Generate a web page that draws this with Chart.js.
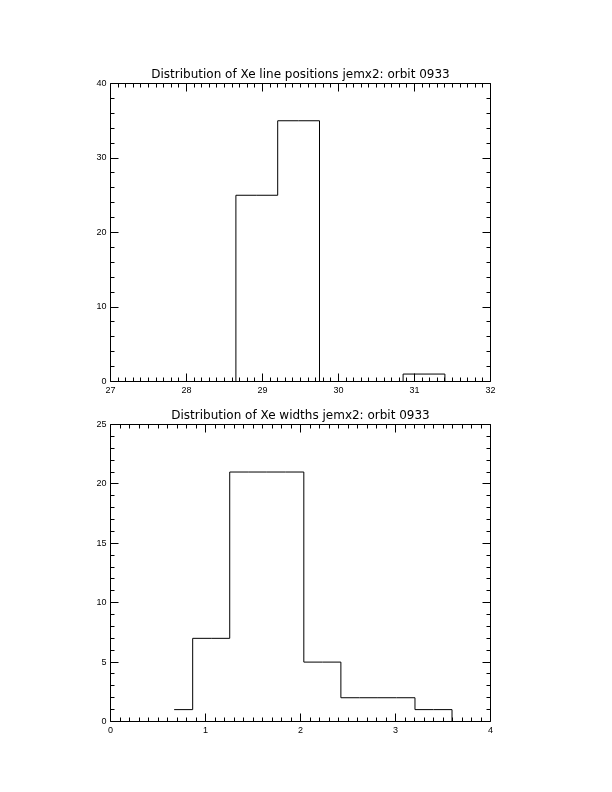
<!DOCTYPE html>
<html>
<head>
<meta charset="utf-8">
<script src="https://cdn.jsdelivr.net/npm/chart.js@4.4.1/dist/chart.umd.min.js"></script>
<style>
  html, body { margin: 0; padding: 0; background: #fff; }
  body { width: 612px; height: 792px; position: relative; overflow: hidden; }
  .wrap { position: absolute; left: 0; width: 612px; }
  canvas { display: block; }
</style>
</head>
<body>
<div class="wrap" style="top:0;height:400px"><canvas id="c1" width="612" height="400"></canvas></div>
<div class="wrap" style="top:400px;height:392px"><canvas id="c2" width="612" height="392"></canvas></div>
<script>
// ---------- Data ----------
const posTitle = "Distribution of Xe line positions jemx2: orbit 0933";
const posBinCenters = [28.375, 28.925, 29.475, 30.025, 30.575, 31.125, 31.675];
const posCounts     = [0,      25,     35,     0,      0,      1,      0];
const posXTicks = [27, 28, 29, 30, 31, 32];
const posYTicks = [0, 10, 20, 30, 40];

const widTitle = "Distribution of Xe widths jemx2: orbit 0933";
const widBinCenters = [0.67, 1.06, 1.45, 1.84, 2.23, 2.62, 3.01, 3.40, 3.79];
const widCounts     = [1,    7,    21,   21,   5,    2,    2,    1,    0];
const widXTicks = [0, 1, 2, 3, 4];
const widYTicks = [0, 5, 10, 15, 20, 25];

// ---------- Helpers ----------
const TITLE_FONT = "'DejaVu Sans', 'Liberation Sans', sans-serif";
const TICK_FONT = "'Liberation Sans', Arial, sans-serif";

const crisp = p => Math.round(p - 0.5) + 0.5;

const idlFrame = {
  id: 'idlFrame',
  afterDraw(chart, args, opts) {
    const ctx = chart.ctx, a = chart.chartArea;
    const xs = chart.scales.x, ys = chart.scales.y;
    const L0 = crisp(a.left), R0 = crisp(a.right), T0 = crisp(a.top), B0 = crisp(a.bottom);
    ctx.save();
    ctx.strokeStyle = '#000';
    ctx.lineWidth = 1;
    ctx.beginPath();
    ctx.rect(L0, T0, R0 - L0, B0 - T0);
    ctx.stroke();
    const MAJ = 8, MIN = 4;
    ctx.beginPath();
    const xMin = xs.min, xMax = xs.max, xStep = opts.xMinor;
    const nx = Math.round((xMax - xMin) / xStep);
    for (let i = 0; i <= nx; i++) {
      const v = xMin + i * xStep;
      const px = crisp(xs.getPixelForValue(v));
      const isMaj = Math.abs(v / opts.xMajor - Math.round(v / opts.xMajor)) < 1e-6;
      const L = isMaj ? MAJ : MIN;
      ctx.moveTo(px, B0); ctx.lineTo(px, B0 - L);
      ctx.moveTo(px, T0); ctx.lineTo(px, T0 + L);
    }
    const yMin = ys.min, yMax = ys.max, yStep = opts.yMinor;
    const ny = Math.round((yMax - yMin) / yStep);
    for (let i = 0; i <= ny; i++) {
      const v = yMin + i * yStep;
      const py = crisp(ys.getPixelForValue(v));
      const isMaj = Math.abs(v / opts.yMajor - Math.round(v / opts.yMajor)) < 1e-6;
      const L = isMaj ? MAJ : MIN;
      ctx.moveTo(L0, py); ctx.lineTo(L0 + L, py);
      ctx.moveTo(R0, py); ctx.lineTo(R0 - L, py);
    }
    ctx.stroke();
    ctx.restore();
  }
};

function makeChart(id, title, centers, counts, xTicks, yTicks, xMinor, yMinor, geom) {
  const xMajor = xTicks[1] - xTicks[0];
  const yMajor = yTicks[1] - yTicks[0];
  return new Chart(document.getElementById(id), {
    type: 'line',
    data: {
      datasets: [{
        data: centers.map((c, i) => ({ x: c, y: counts[i] })),
        stepped: 'middle',
        borderColor: '#000',
        borderWidth: 1,
        pointRadius: 0,
        fill: false,
        segment: {
          borderColor: c => (c.p0.parsed.y === 0 && c.p1.parsed.y === 0) ? 'rgba(0,0,0,0)' : '#000'
        }
      }]
    },
    options: {
      responsive: false,
      animation: false,
      events: [],
      layout: { padding: { left: 0, right: geom.padRight, top: 0, bottom: 0 } },
      plugins: {
        legend: { display: false },
        tooltip: { enabled: false },
        title: {
          display: true,
          text: title,
          fullSize: false,
          color: '#000',
          font: { family: TITLE_FONT, size: 12, weight: 'normal', lineHeight: 1.2 },
          padding: { top: geom.titleTop, bottom: geom.titleBottom }
        },
        idlFrame: { xMinor, yMinor, xMajor, yMajor }
      },
      scales: {
        x: {
          type: 'linear',
          min: xTicks[0], max: xTicks[xTicks.length - 1],
          afterBuildTicks: s => { s.ticks = xTicks.map(v => ({ value: v })); },
          afterFit: s => { s.height = geom.xAxisH; },
          grid: { display: false, drawTicks: false },
          border: { display: false },
          ticks: {
            color: '#000', padding: 4, maxRotation: 0, autoSkip: false,
            font: { family: TICK_FONT, size: 9 }
          }
        },
        y: {
          type: 'linear',
          min: yTicks[0], max: yTicks[yTicks.length - 1],
          afterBuildTicks: s => { s.ticks = yTicks.map(v => ({ value: v })); },
          afterFit: s => { s.width = geom.yAxisW; },
          grid: { display: false, drawTicks: false },
          border: { display: false },
          ticks: {
            color: '#000', padding: 4, autoSkip: false,
            font: { family: TICK_FONT, size: 9 }
          }
        }
      }
    },
    plugins: [idlFrame]
  });
}

// Top chart: plot area x 110.5..490.5, y 83.5..381.5
makeChart('c1', posTitle, posBinCenters, posCounts, posXTicks, posYTicks, 0.1, 2,
  { padRight: 121.5, titleTop: 67.8, titleBottom: 1.3, xAxisH: 18.5, yAxisW: 110.5 });
// Bottom chart: plot area x 110.5..490.5, y 424.5..721.5 (canvas offset 400)
makeChart('c2', widTitle, widBinCenters, widCounts, widXTicks, widYTicks, 0.1, 1,
  { padRight: 121.5, titleTop: 8.8, titleBottom: 1.3, xAxisH: 70.5, yAxisW: 110.5 });
</script>
</body>
</html>
